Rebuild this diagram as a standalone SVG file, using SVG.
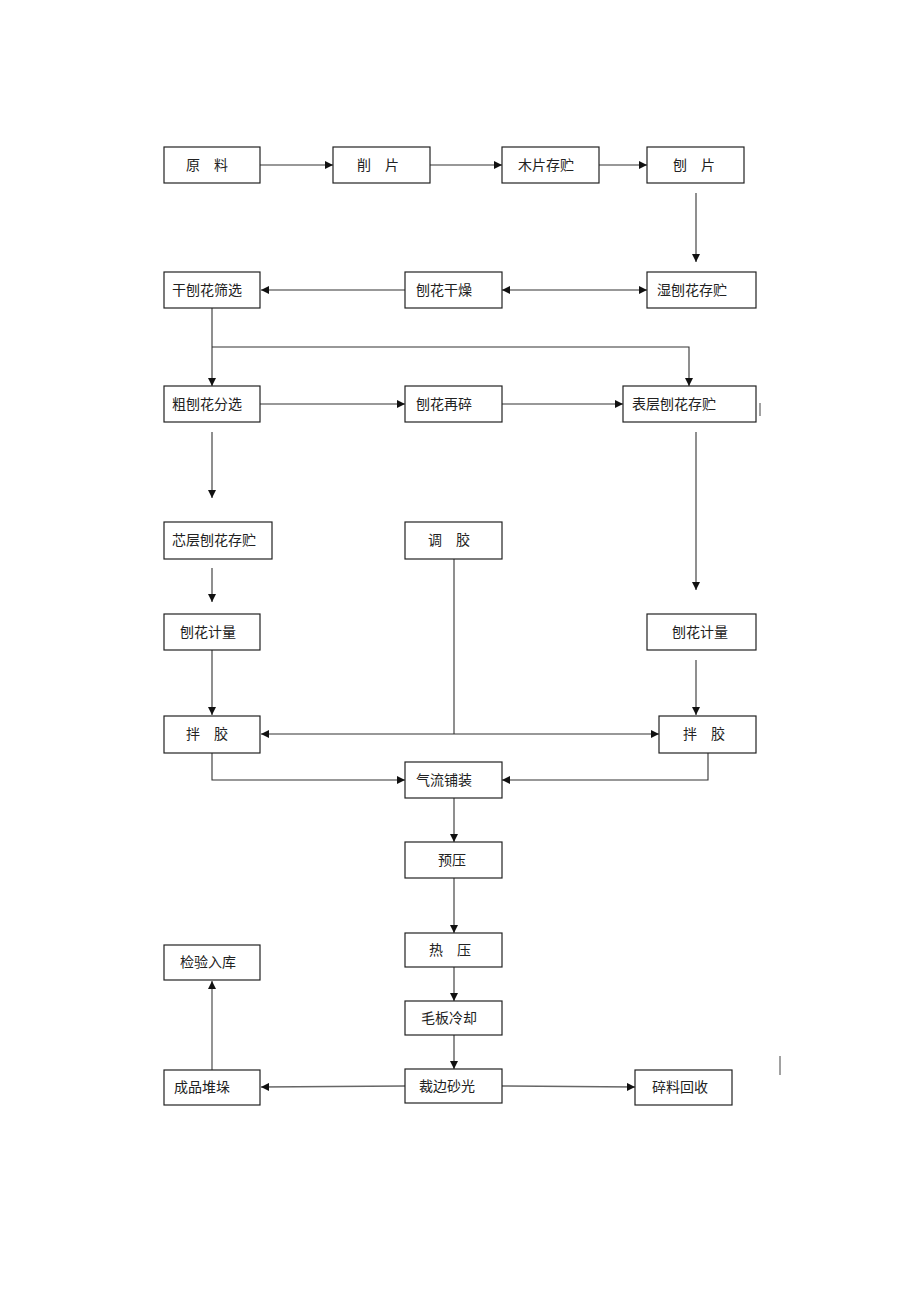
<svg xmlns="http://www.w3.org/2000/svg" width="920" height="1302" viewBox="0 0 920 1302">
<style>
.box{fill:#fff;stroke:#222;stroke-width:1.2}
.t{font-family:"Noto Sans CJK SC","Noto Sans CJK TC",sans-serif;font-size:14px;fill:#222}
.c{fill:none;stroke:#333;stroke-width:1.1}
.g{fill:none;stroke:#666;stroke-width:1.4}
</style>
<defs>
<marker id="a" viewBox="0 0 10 10" refX="10" refY="5" markerWidth="8" markerHeight="8" markerUnits="userSpaceOnUse" orient="auto-start-reverse">
<path d="M0,0 L10,5 L0,10 Z" fill="#111"/>
</marker>
</defs>
<rect width="920" height="1302" fill="#fff"/>
<g id="connectors">
<line class="c" x1="260" y1="165" x2="333" y2="165" marker-end="url(#a)"/>
<line class="c" x1="430" y1="165" x2="502" y2="165" marker-end="url(#a)"/>
<line class="c" x1="599" y1="165" x2="647" y2="165" marker-end="url(#a)"/>
<line class="c" x1="696" y1="193" x2="696" y2="262" marker-end="url(#a)"/>
<line class="c" x1="502" y1="290" x2="647" y2="290" marker-start="url(#a)" marker-end="url(#a)"/>
<line class="c" x1="405" y1="290" x2="261" y2="290" marker-end="url(#a)"/>
<line class="c" x1="212" y1="308" x2="212" y2="386" marker-end="url(#a)"/>
<polyline class="c" points="212,347 689,347 689,386" marker-end="url(#a)"/>
<line class="c" x1="260" y1="404" x2="405" y2="404" marker-end="url(#a)"/>
<line class="c" x1="502" y1="404" x2="623" y2="404" marker-end="url(#a)"/>
<line class="c" x1="212" y1="432" x2="212" y2="498" marker-end="url(#a)"/>
<line class="c" x1="696" y1="432" x2="696" y2="590" marker-end="url(#a)"/>
<line class="c" x1="212" y1="568" x2="212" y2="602" marker-end="url(#a)"/>
<line class="c" x1="212" y1="650" x2="212" y2="715" marker-end="url(#a)"/>
<line class="c" x1="696" y1="660" x2="696" y2="715" marker-end="url(#a)"/>
<line class="c" x1="454" y1="558" x2="454" y2="734"/>
<line class="c" x1="261" y1="734" x2="659" y2="734" marker-start="url(#a)" marker-end="url(#a)"/>
<polyline class="c" points="212,752 212,780 405,780" marker-end="url(#a)"/>
<polyline class="c" points="708,752 708,780 502,780" marker-end="url(#a)"/>
<line class="c" x1="454" y1="798" x2="454" y2="842" marker-end="url(#a)"/>
<line class="c" x1="454" y1="878" x2="454" y2="933" marker-end="url(#a)"/>
<line class="c" x1="454" y1="967" x2="454" y2="1001" marker-end="url(#a)"/>
<line class="c" x1="454" y1="1035" x2="454" y2="1069" marker-end="url(#a)"/>
<line class="g" x1="405" y1="1086" x2="261" y2="1087" marker-end="url(#a)"/>
<line class="g" x1="502" y1="1086" x2="635" y2="1087" marker-end="url(#a)"/>
<line class="g" x1="212" y1="1070" x2="212" y2="981" marker-end="url(#a)"/>
</g>
<g id="n1"><rect class="box" x="164" y="147" width="96" height="36"/><text class="t" x="186" y="170">原　料</text></g>
<g id="n2"><rect class="box" x="333" y="147" width="97" height="36"/><text class="t" x="357" y="170">削　片</text></g>
<g id="n3"><rect class="box" x="502" y="147" width="97" height="36"/><text class="t" x="518" y="170">木片存贮</text></g>
<g id="n4"><rect class="box" x="647" y="147" width="97" height="36"/><text class="t" x="673" y="170">刨　片</text></g>
<g id="n5"><rect class="box" x="164" y="272" width="96" height="36"/><text class="t" x="172" y="295">干刨花筛选</text></g>
<g id="n6"><rect class="box" x="405" y="272" width="97" height="36"/><text class="t" x="416" y="295">刨花干燥</text></g>
<g id="n7"><rect class="box" x="647" y="272" width="109" height="36"/><text class="t" x="657" y="295">湿刨花存贮</text></g>
<g id="n8"><rect class="box" x="164" y="386" width="96" height="36"/><text class="t" x="172" y="409">粗刨花分选</text></g>
<g id="n9"><rect class="box" x="405" y="386" width="97" height="36"/><text class="t" x="416" y="409">刨花再碎</text></g>
<g id="n10"><rect class="box" x="623" y="386" width="133" height="36"/><text class="t" x="632" y="409">表层刨花存贮</text></g>
<g id="n11"><rect class="box" x="164" y="522" width="108" height="37"/><text class="t" x="172" y="545">芯层刨花存贮</text></g>
<g id="n12"><rect class="box" x="405" y="522" width="97" height="37"/><text class="t" x="428" y="545">调　胶</text></g>
<g id="n13"><rect class="box" x="164" y="614" width="96" height="36"/><text class="t" x="180" y="637">刨花计量</text></g>
<g id="n14"><rect class="box" x="647" y="614" width="109" height="36"/><text class="t" x="672" y="637">刨花计量</text></g>
<g id="n15"><rect class="box" x="164" y="716" width="96" height="37"/><text class="t" x="186" y="739">拌　胶</text></g>
<g id="n16"><rect class="box" x="659" y="716" width="97" height="37"/><text class="t" x="683" y="739">拌　胶</text></g>
<g id="n17"><rect class="box" x="405" y="762" width="97" height="36"/><text class="t" x="416" y="785">气流铺装</text></g>
<g id="n18"><rect class="box" x="405" y="842" width="97" height="36"/><text class="t" x="438" y="865">预压</text></g>
<g id="n19"><rect class="box" x="405" y="933" width="97" height="34"/><text class="t" x="429" y="955">热　压</text></g>
<g id="n20"><rect class="box" x="164" y="945" width="96" height="35"/><text class="t" x="180" y="967">检验入库</text></g>
<g id="n21"><rect class="box" x="405" y="1001" width="97" height="34"/><text class="t" x="421" y="1023">毛板冷却</text></g>
<g id="n22"><rect class="box" x="164" y="1070" width="96" height="35"/><text class="t" x="174" y="1092">成品堆垛</text></g>
<g id="n23"><rect class="box" x="405" y="1069" width="97" height="34"/><text class="t" x="419" y="1091">裁边砂光</text></g>
<g id="n24"><rect class="box" x="635" y="1070" width="97" height="35"/><text class="t" x="652" y="1092">碎料回收</text></g>
<line x1="760" y1="403" x2="760" y2="416" stroke="#444" stroke-width="1"/>
<line x1="780" y1="1056" x2="780" y2="1075" stroke="#444" stroke-width="1"/>
</svg>
